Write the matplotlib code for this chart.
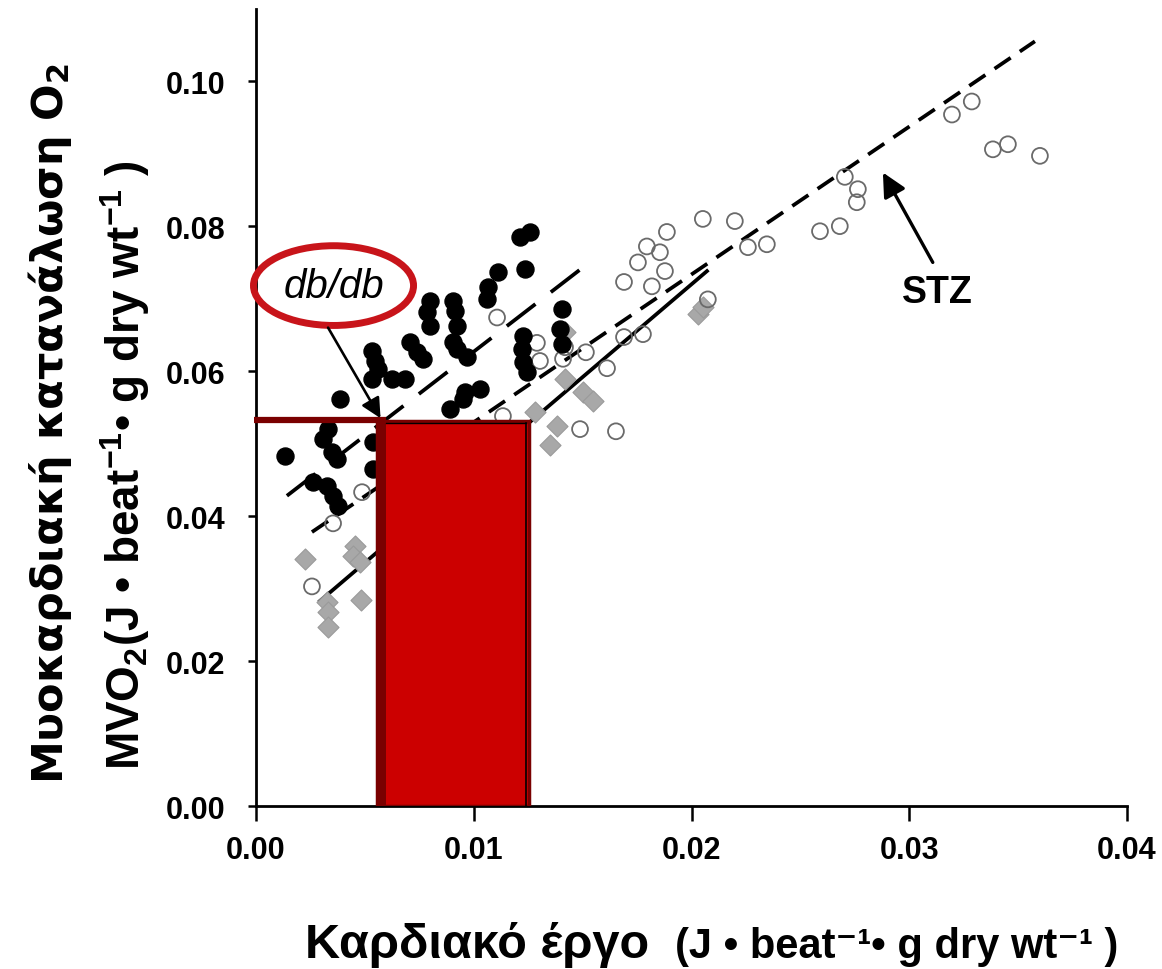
import numpy as np
import matplotlib
matplotlib.use('Agg')
import matplotlib.pyplot as plt
from matplotlib.patches import Ellipse, Rectangle

# db/db hearts (filled black circles)
dbdb_work = [0.01212, 0.01258, 0.01235, 0.01111, 0.01065, 0.01061, 0.00799, 0.00785,
             0.00799, 0.00905, 0.00914, 0.00923, 0.01405, 0.01396, 0.01226, 0.01221,
             0.01226, 0.01244, 0.00707, 0.00739, 0.00767, 0.00905, 0.00923, 0.00969,
             0.00533, 0.00546, 0.00560, 0.00624, 0.00684, 0.00533, 0.00386, 0.00960,
             0.01028, 0.00891, 0.00950, 0.00331, 0.00308, 0.00349, 0.00372, 0.00133,
             0.00537, 0.00537, 0.00262, 0.00326, 0.00354, 0.00376, 0.01405]
dbdb_mvo2 = [0.0785, 0.0792, 0.0741, 0.0737, 0.0716, 0.0699, 0.0697, 0.0681,
             0.0662, 0.0697, 0.0683, 0.0662, 0.0686, 0.0658, 0.0648, 0.0630,
             0.0612, 0.0599, 0.0640, 0.0626, 0.0617, 0.0640, 0.0630, 0.0619,
             0.0628, 0.0614, 0.0603, 0.0589, 0.0589, 0.0589, 0.0561, 0.0571,
             0.0575, 0.0548, 0.0561, 0.0520, 0.0506, 0.0488, 0.0479, 0.0483,
             0.0502, 0.0465, 0.0447, 0.0441, 0.0428, 0.0414, 0.0637]

# STZ hearts (open circles)
stz_work = [0.02052, 0.02199, 0.01887, 0.01795, 0.01855, 0.01754, 0.01878, 0.01690,
            0.01818, 0.02346, 0.02259, 0.02075, 0.01107, 0.01290, 0.01304, 0.01419,
            0.01410, 0.01515, 0.01690, 0.01777, 0.01612, 0.01488, 0.01653, 0.01134,
            0.00487, 0.00354, 0.00257, 0.02590, 0.02681, 0.02704, 0.02764, 0.02759,
            0.03196, 0.03287, 0.03384, 0.03453, 0.03600]
stz_mvo2 = [0.0810, 0.0807, 0.0792, 0.0772, 0.0764, 0.0750, 0.0738, 0.0723,
            0.0717, 0.0775, 0.0771, 0.0699, 0.0674, 0.0639, 0.0614, 0.0633,
            0.0617, 0.0626, 0.0647, 0.0651, 0.0604, 0.0520, 0.0517, 0.0538,
            0.0433, 0.0390, 0.0303, 0.0793, 0.0800, 0.0868, 0.0851, 0.0833,
            0.0954, 0.0972, 0.0906, 0.0913, 0.0897]

# control hearts (grey diamonds)
ctrl_work = [0.01281, 0.01419, 0.01501, 0.01547, 0.01382, 0.01350, 0.02029, 0.02052,
             0.01419, 0.00225, 0.00455, 0.00445, 0.00478, 0.00482, 0.00326, 0.00331,
             0.00331]
ctrl_mvo2 = [0.0543, 0.0589, 0.0571, 0.0559, 0.0524, 0.0498, 0.0679, 0.0688,
             0.0654, 0.0341, 0.0359, 0.0345, 0.0337, 0.0284, 0.0281, 0.0268,
             0.0247]

# regression lines (end points)
dbdb_fit_x = [0.00142, 0.01501]
dbdb_fit_y = [0.0428, 0.0743]
stz_fit_x = [0.00257, 0.03577]
stz_fit_y = [0.0378, 0.1055]
ctrl_fit_x = [0.00294, 0.02071]
ctrl_fit_y = [0.0283, 0.0738]

# highlighted work range / MVO2 level
hl_x0, hl_x1 = 0.00556, 0.01253
hl_y = 0.0531

x_ticks = [0.00, 0.01, 0.02, 0.03, 0.04]
y_ticks = [0.00, 0.02, 0.04, 0.06, 0.08, 0.10]

plt.rcParams['lines.scale_dashes'] = False
plt.rcParams['mathtext.fontset'] = 'custom'
plt.rcParams['mathtext.bf'] = 'DejaVu Sans:bold'
plt.rcParams['mathtext.rm'] = 'Liberation Sans:bold'
plt.rcParams['mathtext.it'] = 'Liberation Sans:bold'
SANS = ['Liberation Sans', 'DejaVu Sans']

fig = plt.figure(figsize=(11.62, 9.70), dpi=100)
ax = fig.add_axes([0.2203, 0.168, 0.7496, 0.822])

ax.plot(dbdb_fit_x, dbdb_fit_y, color='black', lw=2.7, dashes=(26, 14), zorder=2)
ax.plot(stz_fit_x, stz_fit_y, color='black', lw=2.7, dashes=(14, 8), zorder=2)
ax.plot(ctrl_fit_x, ctrl_fit_y, color='black', lw=2.7, zorder=2)

ax.scatter(ctrl_work, ctrl_mvo2, marker='D', s=115, facecolor='#a8a8a8',
           edgecolor='#9a9a9a', lw=0.8, zorder=3)
ax.scatter(stz_work, stz_mvo2, marker='o', s=130, facecolor='none',
           edgecolor='#6a6a6a', lw=1.3, zorder=3)
ax.scatter(dbdb_work, dbdb_mvo2, marker='o', s=150, facecolor='black',
           edgecolor='black', zorder=4)

# red highlight block
ax.add_patch(Rectangle((hl_x0, 0), hl_x1 - hl_x0, hl_y, facecolor='#cc0000',
                       edgecolor='#7a0000', lw=2.5, zorder=5))
ax.add_patch(Rectangle((hl_x0, 0), 0.0004, hl_y, facecolor='#7a0000',
                       edgecolor='none', zorder=6))
ax.plot([hl_x0 + 0.0004, hl_x1 - 0.00012], [hl_y - 0.0002] * 2, color='black', lw=1, zorder=6)
ax.plot([hl_x1 - 0.00012] * 2, [0, hl_y - 0.0002], color='black', lw=1.2, zorder=6)
ax.plot([-0.0001, hl_x0 + 0.0004], [hl_y + 0.0001] * 2, color='#7a0000', lw=4.5,
        solid_capstyle='butt', clip_on=False, zorder=6)

# db/db label
ax.add_patch(Ellipse((0.00356, 0.0718), 0.00735, 0.0110, facecolor='none',
                     edgecolor='#c8141a', lw=5, clip_on=False, zorder=7))
ax.text(0.00356, 0.0718, 'db/db', fontsize=29, style='italic', family=SANS,
        ha='center', va='center', zorder=8)
ax.annotate('', xy=(0.00572, 0.0535), xytext=(0.00331, 0.0660),
            arrowprops=dict(arrowstyle='-|>', lw=1.9, color='black',
                            mutation_scale=30, shrinkA=0, shrinkB=0), zorder=8)

# STZ label
ax.text(0.03127, 0.0709, 'STZ', fontsize=27, weight='bold', family=SANS,
        ha='center', va='center')
ax.annotate('', xy=(0.02879, 0.0874), xytext=(0.03108, 0.0750),
            arrowprops=dict(arrowstyle='-|>', lw=2.4, color='black',
                            mutation_scale=36, shrinkA=0, shrinkB=0))

ax.set_xlim(0, 0.04)
ax.set_ylim(0, 0.11)
ax.set_xticks(x_ticks)
ax.set_yticks(y_ticks)
ax.set_xticklabels([f'{v:.2f}' for v in x_ticks])
ax.set_yticklabels([f'{v:.2f}' for v in y_ticks])
for lab in ax.get_xticklabels() + ax.get_yticklabels():
    lab.set_fontfamily(SANS)
    lab.set_fontsize(22)
    lab.set_fontweight('bold')
ax.tick_params(axis='x', direction='out', length=11, width=1.8, pad=10)
ax.tick_params(axis='y', direction='out', length=6, width=1.8, pad=16)
for side in ['top', 'right']:
    ax.spines[side].set_visible(False)
for side in ['left', 'bottom']:
    ax.spines[side].set_linewidth(2)

# axis titles
fig.text(0.043, 0.563, r'Μυοκαρδιακή κατανάλωση O$_\mathbf{2}$', rotation=90,
         fontsize=31, weight='bold', family=['DejaVu Sans'], ha='center', va='center')
fig.text(0.108, 0.52, r'MVO$_{2}$(J • beat$^{-1}$• g dry wt$^{-1}$ )', rotation=90,
         fontsize=33, weight='bold', family=SANS, ha='center', va='center')
fig.text(0.2625, 0.0124, 'Καρδιακό έργο', fontsize=35, weight='bold', family=SANS,
         ha='left', va='baseline')
fig.text(0.581, 0.0124, '(J • beat⁻¹• g dry wt⁻¹ )', fontsize=30, weight='bold',
         family=SANS, ha='left', va='baseline')

fig.savefig('out.png', dpi=100)
